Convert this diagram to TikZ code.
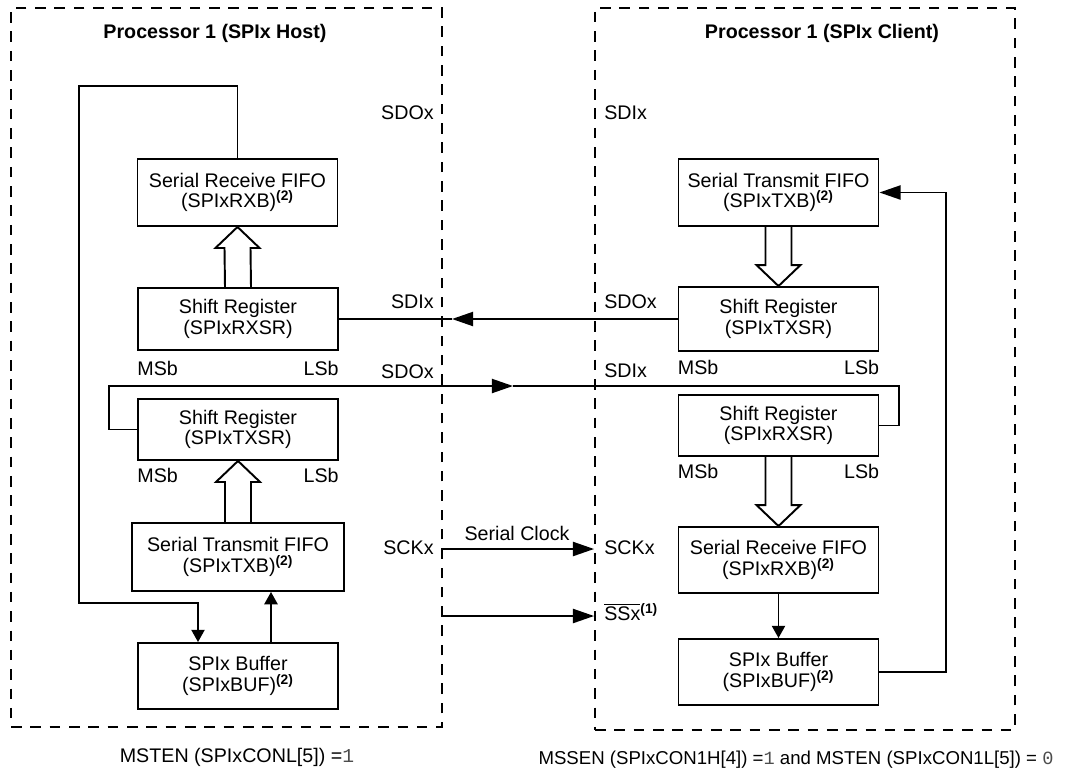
\documentclass[tikz,border=0pt]{standalone}
\usepackage{fontspec}
\setmainfont{Liberation Sans}
\newfontfamily\monofont{Liberation Mono}
\usetikzlibrary{arrows.meta, calc, positioning}

\tikzset{
  regbox/.style={draw, line width=1.1pt, align=center, inner sep=0pt, minimum width=4cm, minimum height=1.3cm},
  procbox/.style={draw, line width=1.1pt, dash pattern=on 6pt off 5pt, inner sep=0pt},
  ptitle/.style={font=\fontsize{11.2}{11.8}\selectfont\bfseries},
  conn/.style={line width=1.1pt},
  bigtip/.style={-{Triangle[length=12pt, width=8pt]}},
  smalltip/.style={-{Triangle[length=7pt, width=7.5pt]}},
  sig/.style={inner sep=0pt},
}
\newcommand{\regnote}{\textsuperscript{\bfseries\smash{(2)}}}
\newcommand{\modebit}[1]{\textcolor{black!70}{\monofont #1}}

% hollow data-path arrows between two register boxes
\newcommand{\fatup}[2]{%
  \draw[line width=1.1pt] ($(#1.north)+(-13,0)$) -- ($(#2.south)+(-13,21)$) -- ($(#2.south)+(-22,21)$)
    -- (#2.south) -- ($(#2.south)+(22,21)$) -- ($(#2.south)+(13,21)$) -- ($(#1.north)+(13,0)$);}
\newcommand{\fatdown}[2]{%
  \draw[line width=1.1pt] ($(#1.south)+(-13,0)$) -- ($(#2.north)+(-13,-21)$) -- ($(#2.north)+(-22,-21)$)
    -- (#2.north) -- ($(#2.north)+(22,-21)$) -- ($(#2.north)+(13,-21)$) -- ($(#1.south)+(13,0)$);}

\begin{document}
\begin{tikzpicture}[x=0.02cm, y=-0.02cm, font=\fontsize{11.2}{11.8}\selectfont]
    \useasboundingbox (0,0) rectangle (1086,775);

    % Processor outlines
    \node (host) [procbox, minimum width=8.62cm, minimum height=14.38cm] at (226.5,367.5) {};
    \node (client) [procbox, minimum width=8.4cm, minimum height=14.44cm] at (805,369) {};
    \node (hosttitle) [ptitle] at (215,33) {Processor 1 (SPIx Host)};
    \node (clienttitle) [ptitle] at (822,33) {Processor 1 (SPIx Client)};

    % Host registers
    \node (hrxfifo) [regbox, minimum height=1.34cm] at (237.5,192.5) {Serial Receive FIFO\\(SPIxRXB)\regnote};
    \node (hrxsr) [regbox, minimum height=1.24cm] at (238,319) {Shift Register\\(SPIxRXSR)};
    \node (htxsr) [regbox, minimum height=1.22cm] at (238,429.5) {Shift Register\\(SPIxTXSR)};
    \node (htxfifo) [regbox, minimum width=4.24cm, minimum height=1.36cm] at (238,557) {Serial Transmit FIFO\\(SPIxTXB)\regnote};
    \node (hbuf) [regbox, minimum height=1.32cm] at (238,676) {SPIx Buffer\\(SPIxBUF)\regnote};

    % Client registers
    \node (ctxfifo) [regbox, minimum height=1.34cm] at (778.5,192.5) {Serial Transmit FIFO\\(SPIxTXB)\regnote};
    \node (ctxsr) [regbox, minimum height=1.28cm] at (778.5,319) {Shift Register\\(SPIxTXSR)};
    \node (crxsr) [regbox, minimum height=1.22cm] at (778.5,425.5) {Shift Register\\(SPIxRXSR)};
    \node (crxfifo) [regbox, minimum height=1.32cm] at (778.5,560) {Serial Receive FIFO\\(SPIxRXB)\regnote};
    \node (cbuf) [regbox, minimum height=1.32cm] at (778.5,672) {SPIx Buffer\\(SPIxBUF)\regnote};

    % bit order under the shift registers
    \foreach \r/\d in {hrxsr/17, htxsr/14, ctxsr/15, crxsr/14} {
        \node (\r msb) [sig, anchor=west] at ($(\r.south west)+(0,\d)$) {MSb};
        \node (\r lsb) [sig, anchor=east] at ($(\r.south east)+(0,\d)$) {LSb};
    }

    % Pin names
    \node (hsdotop) [sig, anchor=east] at (434,113) {SDOx};
    \node (csditop) [sig, anchor=west] at (604,113) {SDIx};
    \node (hsdi) [sig, anchor=east] at (434,302) {SDIx};
    \node (csdo) [sig, anchor=west] at (604,302) {SDOx};
    \node (hsdo) [sig, anchor=east] at (434,372) {SDOx};
    \node (csdi) [sig, anchor=west] at (604,371) {SDIx};
    \node (hsck) [sig, anchor=east] at (434,548) {SCKx};
    \node (csck) [sig, anchor=west] at (604,548) {SCKx};
    \node (css) [sig, anchor=west] at (604,612) {$\overline{\mbox{SSx}}$\textsuperscript{\bfseries(1)}};
    \node (sclk) [sig] at (517,533) {Serial Clock};

    % Internal data paths
    \fatup{hrxsr}{hrxfifo}
    \fatup{htxfifo}{htxsr}
    \fatdown{ctxfifo}{ctxsr}
    \fatdown{crxsr}{crxfifo}

    \draw[conn, smalltip] (hrxfifo.north) -- ++(0,-72) -| (79,603) -| ($(hbuf.north)+(-40,0)$);
    \draw[conn, smalltip] ($(hbuf.north)+(33,0)$) -- ($(htxfifo.south)+(33,0)$);
    \draw[conn, smalltip] (crxfifo.south) -- (cbuf.north);
    \draw[conn, bigtip] (cbuf.east) -- ++(67,0) |- (ctxfifo.east);

    % Serial lines
    \coordinate (sdimid) at (452,319);
    \coordinate (sdomid) at (513,386);
    \coordinate (sckout) at (442,549);
    \coordinate (ssout) at (442,616);
    \draw[conn, bigtip] (ctxsr.west) -- (sdimid);
    \draw[conn] (sdimid) -- (hrxsr.east);
    \draw[conn, bigtip] (htxsr.west) -- ++(-28,0) |- (sdomid);
    \draw[conn] (sdomid) -| ($(crxsr.east)+(20,0)$) -- (crxsr.east);
    \draw[conn, bigtip] (sckout) -- (client.west |- sckout);
    \draw[conn, bigtip] (ssout) -- (client.west |- ssout);

    % Mode settings
    \node (hostmode) at (237,757) {MSTEN (SPIxCONL[5]) =\modebit{1}};
    \node (clientmode) [font=\fontsize{10.6}{11.8}\selectfont] at (796,760) {MSSEN (SPIxCON1H[4]) =\modebit{1} and MSTEN (SPIxCON1L[5]) = \modebit{0}};
\end{tikzpicture}
\end{document}
